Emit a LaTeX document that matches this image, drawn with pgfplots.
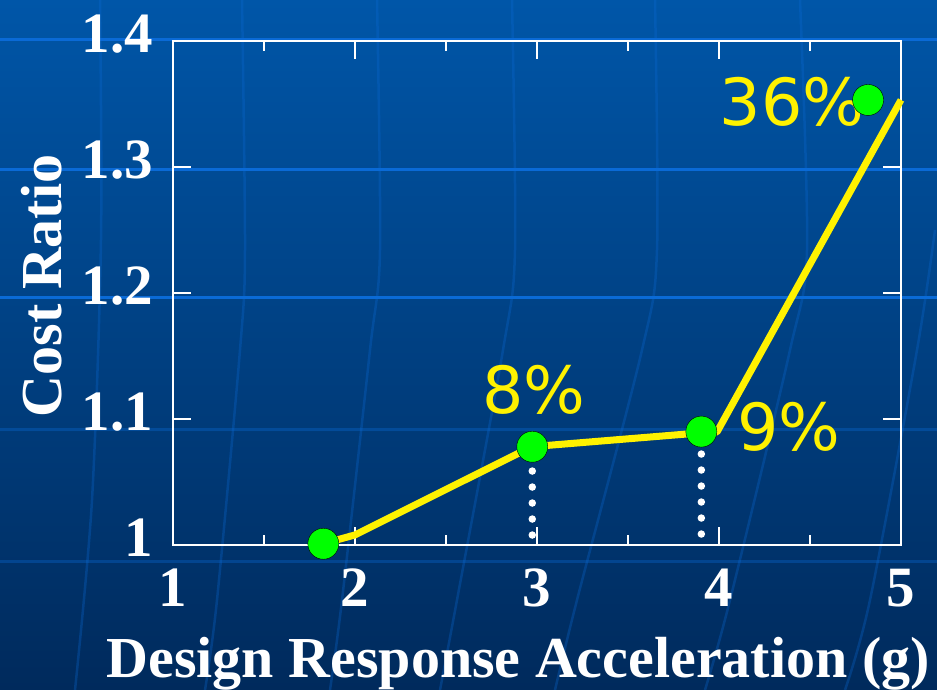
\documentclass[border=0pt]{standalone}
\usepackage{pgfplots}
\pgfplotsset{compat=1.18}
\usepackage{fontspec}
\setmainfont{Liberation Serif}
\newfontfamily\pctfont{DejaVu Sans}

\definecolor{bgtop}{RGB}{0,86,168}
\definecolor{bgbot}{RGB}{0,42,92}
\definecolor{bgline}{RGB}{10,106,214}
\definecolor{curveyellow}{RGB}{255,242,0}
\definecolor{dotgreen}{RGB}{0,255,0}

\begin{document}
\begin{tikzpicture}
% slide background
\shade[top color=bgtop, bottom color=bgbot] (0pt,0pt) rectangle (937pt,690pt);
\useasboundingbox (0pt,0pt) rectangle (937pt,690pt);
% horizontal decoration lines
\foreach \yy in {650,520,392} \draw[bgline, line width=3pt] (0pt,\yy pt) -- (937pt,\yy pt);
\foreach \yy in {260,128} \draw[bgline, line width=3pt, opacity=0.35] (0pt,\yy pt) -- (937pt,\yy pt);
% curved meridian lines
\begin{scope}[bgline, line width=2.5pt, opacity=0.3]
\draw plot[smooth] coordinates {(100pt,690pt) (101pt,450pt) (92pt,190pt) (75pt,0pt)};
\draw plot[smooth] coordinates {(242pt,690pt) (245pt,440pt) (240pt,340pt) (217pt,90pt) (205pt,0pt)};
\draw plot[smooth] coordinates {(377pt,690pt) (380pt,440pt) (370pt,340pt) (342pt,90pt) (330pt,0pt)};
\draw plot[smooth] coordinates {(512pt,690pt) (515pt,440pt) (503pt,340pt) (457pt,90pt) (440pt,0pt)};
\draw plot[smooth] coordinates {(655pt,690pt) (657pt,440pt) (642pt,340pt) (577pt,90pt) (555pt,0pt)};
\draw plot[smooth] coordinates {(800pt,690pt) (807pt,440pt) (790pt,340pt) (730pt,90pt) (705pt,0pt)};
\draw plot[smooth] coordinates {(935pt,460pt) (917pt,340pt) (870pt,90pt) (845pt,0pt)};
\end{scope}

\begin{axis}[
  at={(173pt,145pt)}, anchor=south west,
  width=728pt, height=504pt, scale only axis,
  xmin=1, xmax=5, ymin=1, ymax=1.4,
  xtick={1,2,3,4,5}, minor x tick num=1,
  ytick={1,1.1,1.2,1.3,1.4},
  axis line style={white, line width=1.5pt},
  every tick/.style={white, line width=1.2pt},
  major tick length=18pt, minor tick length=10pt,
  tick align=inside,
  /pgf/number format/assume math mode=true,
  ticklabel style={font=\bfseries\fontsize{57}{60}\selectfont, text=white, inner sep=0pt},
  xticklabel style={anchor=base, yshift=-62pt},
  yticklabel style={anchor=base east, xshift=-20pt, yshift=-12pt},
  xlabel={Design Response Acceleration (g)},
  ylabel={Cost Ratio},
  label style={font=\bfseries\fontsize{58}{60}\selectfont, text=white},
  xlabel style={at={(axis description cs:0.474,-0.262)}, anchor=base},
  ylabel style={at={(axis description cs:-0.181,0.514)}, anchor=center},
  clip=false,
]
% dotted drop lines below the middle points
\addplot[white, line width=7.5pt, line cap=round, dash pattern=on 0pt off 16pt]
  coordinates {(2.974,1.0079) (2.974,1.062)};
\addplot[white, line width=7.5pt, line cap=round, dash pattern=on 0pt off 16pt]
  coordinates {(3.903,1.0087) (3.903,1.073)};
% cost ratio curve
\addplot[curveyellow, line width=7pt, line join=round]
  coordinates {(1.85,1.002) (2.0,1.008) (2.97,1.078) (3.90,1.089) (3.989,1.0897) (5.0,1.3532)};
% design points
\addplot[only marks, mark=*, mark size=15.5pt, mark options={fill=dotgreen, draw=none}]
  coordinates {(1.826,1.001) (2.974,1.078) (3.903,1.090) (4.819,1.3532)};
% cost increases
\node[text=curveyellow, font=\pctfont\fontsize{65}{65}\selectfont, inner sep=0pt, anchor=center] at (axis cs:2.984,1.123) {8\%};
\node[text=curveyellow, font=\pctfont\fontsize{65}{65}\selectfont, inner sep=0pt, anchor=center] at (axis cs:4.385,1.0937) {9\%};
\node[text=curveyellow, font=\pctfont\fontsize{65}{65}\selectfont, inner sep=0pt, anchor=center] at (axis cs:4.401,1.3516) {36\%};
\end{axis}
\end{tikzpicture}
\end{document}
